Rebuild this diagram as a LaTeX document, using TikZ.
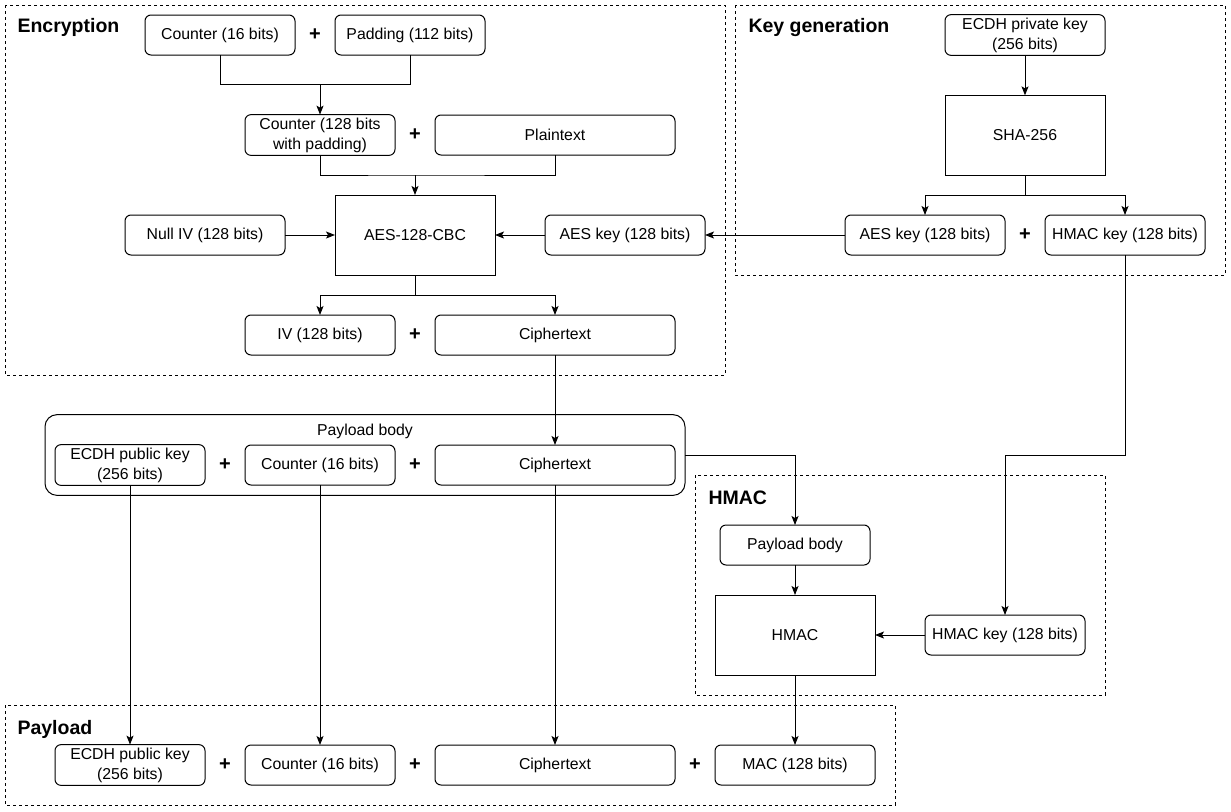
\documentclass[tikz,border=0pt]{standalone}
\usepackage{fontspec}
\setmainfont{Liberation Sans}
\usetikzlibrary{arrows.meta,positioning,calc,fit}

\begin{document}
\begin{tikzpicture}[x=1pt, y=-1pt, >={Stealth[length=9pt,width=7pt,inset=2pt]}, line width=1pt,
  font=\fontsize{15.8}{20}\selectfont,
  box/.style={draw, rounded corners=6pt, minimum height=40pt, minimum width=150pt, align=center, inner sep=3pt, outer sep=0pt},
  widebox/.style={box, minimum width=240pt},
  kbox/.style={box, minimum width=160pt},
  proc/.style={draw, minimum height=80pt, minimum width=160pt, align=center, outer sep=0pt},
  plussign/.style={font=\fontsize{20}{20}\selectfont\bfseries, inner sep=0pt},
  zone/.style={draw, dash pattern=on 3pt off 3pt},
  zonetitle/.style={font=\fontsize{19.5}{20}\selectfont\bfseries, anchor=base west, inner sep=0pt}]
  \useasboundingbox (0,0) rectangle (1231,811);
  \draw[zone] (5,5) rectangle (725,375);
  \draw[zone] (735,5) rectangle (1225,275);
  \draw[zone] (695,475) rectangle (1105,695);
  \draw[zone] (5,705) rectangle (895,805);
  \node[zonetitle] (tenc) at (17,32.5) {Encryption};
  \node[zonetitle] (tkey) at (748,32.5) {Key generation};
  \node[zonetitle] (thmac) at (708,504) {HMAC};
  \node[zonetitle] (tpay) at (17,734) {Payload};

  \node[box] (cnt) at (220,35) {Counter (16 bits)};
  \node[box, right=40pt of cnt] (pad) {Padding (112 bits)};
  \node[plussign] (p1) at ($(cnt.east)!0.5!(pad.west)$) {+};
  \node[box] (cntpad) at (320,135) {Counter (128 bits\\with padding)};
  \node[widebox, right=40pt of cntpad] (plain) {Plaintext};
  \node[plussign] (p2) at ($(cntpad.east)!0.5!(plain.west)$) {+};
  \node[proc] (aes) at (415,235) {AES-128-CBC};
  \node[kbox, left=50pt of aes] (nulliv) {Null IV (128 bits)};
  \node[kbox, right=50pt of aes] (aeskey) {AES key (128 bits)};
  \node[box] (iv) at (320,335) {IV (128 bits)};
  \node[widebox, right=40pt of iv] (cipher) {Ciphertext};
  \node[plussign] (p3) at ($(iv.east)!0.5!(cipher.west)$) {+};

  \node[kbox] (priv) at (1025,35) {ECDH private key\\(256 bits)};
  \node[proc, below=40pt of priv] (sha) {SHA-256};
  \node[kbox] (kaes) at (925,235) {AES key (128 bits)};
  \node[kbox, right=40pt of kaes] (khmac) {HMAC key (128 bits)};
  \node[plussign] (p4) at ($(kaes.east)!0.5!(khmac.west)$) {+};

  \node[box] (bpub) at (130,465) {ECDH public key\\(256 bits)};
  \node[box, right=40pt of bpub] (bcnt) {Counter (16 bits)};
  \node[widebox, right=40pt of bcnt] (bcipher) {Ciphertext};
  \node[plussign] (p5) at ($(bpub.east)!0.5!(bcnt.west)$) {+};
  \node[plussign] (p6) at ($(bcnt.east)!0.5!(bcipher.west)$) {+};
  \coordinate (btop) at ($(bpub.north)+(0,-20)$);
  \node[draw, rounded corners=12pt, inner sep=10pt, outer sep=0pt, fit=(bpub)(bcipher)(btop)] (body) {};
  \node (bodylbl) at ($(body.north)+(0,17)$) {Payload body};

  \node[box] (hbody) at (795,545) {Payload body};
  \node[proc, below=30pt of hbody] (hmac) {HMAC};
  \node[kbox, right=50pt of hmac] (hkey) {HMAC key (128 bits)};

  \node[box] (fpub) at (130,765) {ECDH public key\\(256 bits)};
  \node[box, right=40pt of fpub] (fcnt) {Counter (16 bits)};
  \node[widebox, right=40pt of fcnt] (fcipher) {Ciphertext};
  \node[kbox, right=40pt of fcipher] (fmac) {MAC (128 bits)};
  \node[plussign] (p7) at ($(fpub.east)!0.5!(fcnt.west)$) {+};
  \node[plussign] (p8) at ($(fcnt.east)!0.5!(fcipher.west)$) {+};
  \node[plussign] (p9) at ($(fcipher.east)!0.5!(fmac.west)$) {+};

  \coordinate (j1) at ($(cntpad.north)+(0,-30)$);
  \draw (cnt.south) |- (j1) -| (pad.south);
  \draw[->] (j1) -- (cntpad.north);
  \coordinate (j2) at ($(aes.north)+(0,-20)$);
  \draw (cntpad.south) |- (j2) -| (plain.south);
  \draw[->] (j2) -- (aes.north);
  \draw[->] (nulliv) -- (aes);
  \draw[->] (aeskey) -- (aes);
  \draw[->] (kaes) -- (aeskey);
  \coordinate (j3) at ($(aes.south)+(0,20)$);
  \draw (aes.south) -- (j3);
  \draw[->] (j3) -| (iv.north);
  \draw[->] (j3) -| (cipher.north);
  \draw[->] (priv) -- (sha);
  \coordinate (j4) at ($(sha.south)+(0,20)$);
  \draw (sha.south) -- (j4);
  \draw[->] (j4) -| (kaes.north);
  \draw[->] (j4) -| (khmac.north);
  \draw[->] (cipher) -- (bcipher);
  \draw[->] (body.east) -| (hbody.north);
  \draw[->] (khmac.south) -- ++(0,200) -| (hkey.north);
  \draw[->] (hbody) -- (hmac);
  \draw[->] (hkey) -- (hmac);
  \draw[->] (bpub) -- (fpub);
  \draw[->] (bcnt) -- (fcnt);
  \draw[->] (bcipher) -- (fcipher);
  \draw[->] (hmac) -- (fmac);
\end{tikzpicture}
\end{document}
